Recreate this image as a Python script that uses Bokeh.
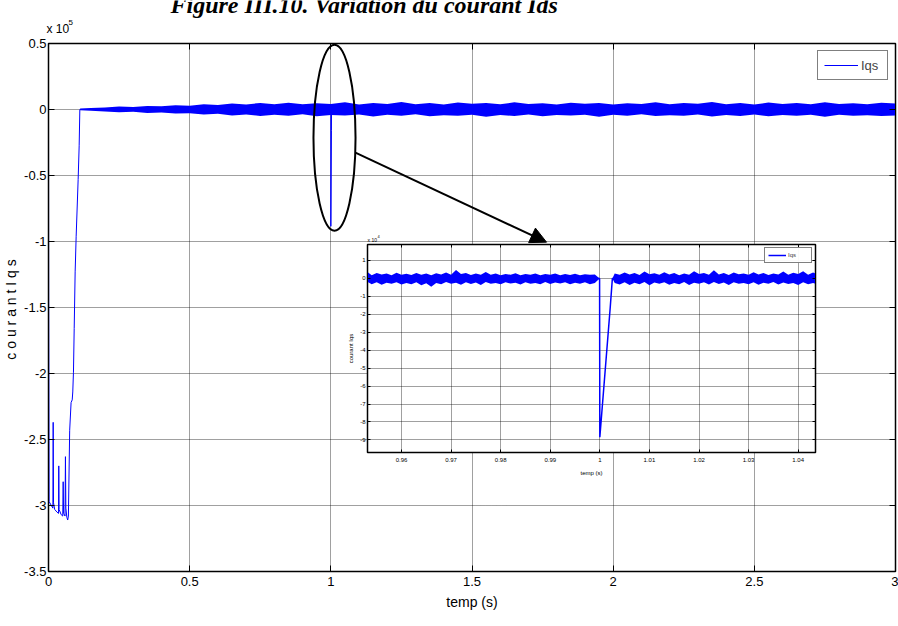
from bokeh.plotting import figure
from bokeh.models import (FixedTicker, CustomJSTickFormatter, LinearAxis, Label, Arrow,
                          NormalHead, Legend, LegendItem, Range1d)
from bokeh.layouts import column
from bokeh.embed import file_html
from bokeh.resources import INLINE

# ---------------- data (main plot, Iqs in units of 1e5) ----------------
main_t = [0, 0.0005, 0.002, 0.010, 0.0155, 0.0166, 0.0178, 0.022, 0.030, 0.0355, 0.0364,
          0.0375, 0.045, 0.0505, 0.052, 0.0535, 0.0585, 0.0600, 0.0615, 0.0650, 0.0680,
          0.0705, 0.0750, 0.0800, 0.0840, 0.0860, 0.0884, 0.0910, 0.0944, 0.0980, 0.1050,
          0.1086, 0.1110, 1.0, 1.00005, 1.0021, 1.0025, 3.0]
main_iqs = [0, -1.45, -2.97, -3.00, -3.02, -2.37, -2.98, -3.03, -3.05, -3.06, -2.70,
            -3.03, -3.07, -3.08, -2.82, -3.06, -3.08, -2.63, -3.02, -3.09, -3.11,
            -3.08, -2.43, -2.22, -2.20, -2.14, -1.99, -1.66, -1.23, -0.96, -0.53,
            -0.275, 0.0, 0.0, -0.885, -0.161, 0.0, 0.0]

# ripple envelope of the steady state (units of 1e5)
band_t = [0.112, 0.15, 0.2, 0.25, 0.3, 0.35, 0.4, 0.45, 0.5, 0.55,
          0.6, 0.65, 0.7, 0.75, 0.8, 0.85, 0.9, 0.95, 1.0, 1.05,
          1.1, 1.15, 1.2, 1.25, 1.3, 1.35, 1.4, 1.45, 1.5, 1.55,
          1.6, 1.65, 1.7, 1.75, 1.8, 1.85, 1.9, 1.95, 2.0, 2.05,
          2.1, 2.15, 2.2, 2.25, 2.3, 2.35, 2.4, 2.45, 2.5, 2.55,
          2.6, 2.65, 2.7, 2.75, 2.8, 2.85, 2.9, 2.95, 3.0]
band_hi = [0.008, 0.012, 0.016, 0.022, 0.019, 0.027, 0.024, 0.033, 0.029, 0.04,
           0.034, 0.046, 0.038, 0.05, 0.04, 0.052, 0.039, 0.048, 0.041, 0.054,
           0.038, 0.049, 0.042, 0.056, 0.04, 0.05, 0.037, 0.053, 0.043, 0.049,
           0.039, 0.055, 0.041, 0.048, 0.038, 0.052, 0.044, 0.05, 0.037, 0.047,
           0.042, 0.054, 0.039, 0.05, 0.043, 0.056, 0.04, 0.049, 0.038, 0.053,
           0.041, 0.05, 0.039, 0.055, 0.042, 0.048, 0.04, 0.052, 0.045]
band_lo = [-0.006, -0.01, -0.015, -0.02, -0.017, -0.026, -0.022, -0.031, -0.028, -0.038,
           -0.033, -0.045, -0.037, -0.049, -0.04, -0.047, -0.036, -0.052, -0.041, -0.046,
           -0.038, -0.053, -0.04, -0.048, -0.036, -0.051, -0.043, -0.047, -0.039, -0.054,
           -0.041, -0.049, -0.037, -0.052, -0.042, -0.046, -0.039, -0.055, -0.04, -0.048,
           -0.036, -0.05, -0.043, -0.047, -0.038, -0.053, -0.041, -0.049, -0.037, -0.051,
           -0.042, -0.048, -0.039, -0.054, -0.04, -0.047, -0.043, -0.05, -0.046]

# ---------------- data (zoom inset, Iqs in units of 1e4) ----------------
zoom_t = [0.9532, 0.99995, 1.0000, 1.0021, 1.00253, 1.0435]
zoom_iqs = [0.0, 0.0, -8.85, -1.61, 0.0, 0.0]

zl_t = [0.9532, 0.954, 0.955, 0.956, 0.957, 0.958, 0.959, 0.960, 0.961, 0.962,
        0.963, 0.964, 0.965, 0.966, 0.967, 0.968, 0.969, 0.970, 0.971, 0.972,
        0.973, 0.974, 0.975, 0.976, 0.977, 0.978, 0.979, 0.980, 0.981, 0.982,
        0.983, 0.984, 0.985, 0.986, 0.987, 0.988, 0.989, 0.990, 0.991, 0.992,
        0.993, 0.994, 0.995, 0.996, 0.997, 0.998, 0.999, 0.99995]
zl_hi = [0.35, 0.18, 0.3, 0.22, 0.28, 0.17, 0.31, 0.2, 0.26, 0.19,
         0.3, 0.21, 0.27, 0.18, 0.29, 0.22, 0.33, 0.2, 0.47, 0.24,
         0.3, 0.19, 0.28, 0.21, 0.36, 0.2, 0.27, 0.18, 0.25, 0.2,
         0.29, 0.17, 0.24, 0.2, 0.27, 0.18, 0.25, 0.21, 0.28, 0.17,
         0.24, 0.19, 0.26, 0.18, 0.23, 0.2, 0.22, 0.0]
zl_lo = [-0.2, -0.33, -0.22, -0.35, -0.24, -0.3, -0.21, -0.34, -0.25, -0.32,
         -0.22, -0.38, -0.27, -0.46, -0.25, -0.33, -0.2, -0.3, -0.24, -0.35,
         -0.21, -0.31, -0.23, -0.36, -0.2, -0.3, -0.26, -0.33, -0.22, -0.29,
         -0.24, -0.34, -0.21, -0.3, -0.25, -0.32, -0.2, -0.31, -0.23, -0.29,
         -0.22, -0.33, -0.24, -0.3, -0.21, -0.32, -0.25, 0.0]

zr_t = [1.00253, 1.003, 1.004, 1.005, 1.006, 1.007, 1.008, 1.009, 1.010, 1.011,
        1.012, 1.013, 1.014, 1.015, 1.016, 1.017, 1.018, 1.019, 1.020, 1.021,
        1.022, 1.023, 1.024, 1.025, 1.026, 1.027, 1.028, 1.029, 1.030, 1.031,
        1.032, 1.033, 1.034, 1.035, 1.036, 1.037, 1.038, 1.039, 1.040, 1.041,
        1.042, 1.043, 1.0435]
zr_hi = [0.0, 0.28, 0.2, 0.33, 0.22, 0.3, 0.19, 0.38, 0.23, 0.29,
         0.2, 0.35, 0.22, 0.3, 0.18, 0.28, 0.21, 0.4, 0.24, 0.3,
         0.2, 0.45, 0.22, 0.3, 0.19, 0.33, 0.23, 0.28, 0.2, 0.35,
         0.22, 0.3, 0.19, 0.27, 0.22, 0.38, 0.2, 0.31, 0.24, 0.4,
         0.21, 0.33, 0.28]
zr_lo = [0.0, -0.25, -0.34, -0.22, -0.36, -0.24, -0.32, -0.2, -0.38, -0.23,
         -0.3, -0.21, -0.35, -0.25, -0.33, -0.2, -0.37, -0.24, -0.3, -0.22,
         -0.34, -0.2, -0.31, -0.23, -0.36, -0.21, -0.3, -0.25, -0.33, -0.22,
         -0.35, -0.24, -0.3, -0.2, -0.34, -0.23, -0.31, -0.26, -0.37, -0.22,
         -0.32, -0.25, -0.3]

x_ticks = [0, 0.5, 1, 1.5, 2, 2.5, 3]
y_ticks = [-3.5, -3, -2.5, -2, -1.5, -1, -0.5, 0, 0.5]
zx_ticks = [0.96, 0.97, 0.98, 0.99, 1.0, 1.01, 1.02, 1.03, 1.04]
zy_ticks = [-9, -8, -7, -6, -5, -4, -3, -2, -1, 0, 1]

FONT = "Liberation Sans"
BLUE = "#0000ff"
fmt = CustomJSTickFormatter(code="return tick.toString()")
nofmt = CustomJSTickFormatter(code="return ''")


def style_axes(fig, xt, yt, lab_size, tick_len, title_size):
    for ax in fig.xaxis:
        ax.ticker = FixedTicker(ticks=xt)
    for ax in fig.yaxis:
        ax.ticker = FixedTicker(ticks=yt)
    for ax in fig.xaxis + fig.yaxis:
        ax.formatter = fmt
        ax.major_tick_in = tick_len
        ax.major_tick_out = 0
        ax.minor_tick_line_color = None
        ax.axis_line_color = "black"
        ax.major_tick_line_color = "black"
        ax.major_label_text_font = FONT
        ax.major_label_text_font_size = lab_size
        ax.major_label_text_color = "black"
        ax.axis_label_text_font = FONT
        ax.axis_label_text_font_size = title_size
        ax.axis_label_text_font_style = "normal"
        ax.axis_label_text_color = "black"
    for ax, loc in ((LinearAxis(ticker=FixedTicker(ticks=xt)), "above"),
                    (LinearAxis(ticker=FixedTicker(ticks=yt)), "right")):
        ax.formatter = nofmt
        ax.major_label_standoff = 0
        ax.major_tick_in = tick_len
        ax.major_tick_out = 0
        ax.minor_tick_line_color = None
        ax.axis_line_color = "black"
        ax.major_tick_line_color = "black"
        fig.add_layout(ax, loc)
    fig.grid.grid_line_color = "black"
    fig.grid.grid_line_dash = "1 1"
    fig.grid.grid_line_alpha = 0.75
    fig.outline_line_color = "black"


# ---------------- main figure ----------------
p = figure(width=898, height=626, x_range=Range1d(0, 3), y_range=Range1d(-3.5, 0.5),
           output_backend="svg", toolbar_location=None,
           min_border_left=48, min_border_right=3, min_border_top=43, min_border_bottom=55,
           x_axis_label="temp (s)", y_axis_label="c o u r a n t  I q s")
p.background_fill_color = "white"
p.border_fill_color = "white"
style_axes(p, x_ticks, y_ticks, "13px", 6, "14px")
p.xaxis[0].major_label_text_font_size = "15px"
p.xaxis[0].major_label_standoff = 5
p.xaxis[0].axis_label_standoff = 10
p.yaxis[0].major_label_standoff = 2
p.yaxis[0].axis_label_standoff = 2
p.outline_line_width = 1.5

p.varea(x=band_t, y1=band_lo, y2=band_hi, fill_color=BLUE)
main_line = p.line(main_t, main_iqs, line_color=BLUE, line_width=1)

leg = Legend(items=[LegendItem(label="Iqs", renderers=[main_line])], location="top_right")
leg.margin = 7
leg.padding = 6
leg.spacing = 0
leg.glyph_width = 34
leg.glyph_height = 16
leg.label_standoff = 3
leg.label_text_font = FONT
leg.label_text_font_size = "13px"
leg.border_line_color = "black"
leg.border_line_width = 1.5
p.add_layout(leg)

# ellipse + arrow annotation
p.ellipse(x=1.013, y=-0.214, width=0.149, height=1.41, fill_color=None,
          line_color="black", line_width=2)
p.add_layout(Arrow(end=NormalHead(size=16, fill_color="black", line_color="black"),
                   x_start=1.087, y_start=-0.326, x_end=1.764, y_end=-1.005,
                   line_color="black", line_width=2))

# ---------------- inset figure ----------------
ins = figure(width=499, height=252, x_range=Range1d(0.95315, 1.04349),
             y_range=Range1d(-9.70, 1.89), output_backend="svg", toolbar_location=None,
             min_border_left=48, min_border_right=3, min_border_top=14, min_border_bottom=30,
             x_axis_label="temp (s)", y_axis_label="courant Iqs")
ins.border_fill_color = None
ins.background_fill_color = "white"
style_axes(ins, zx_ticks, zy_ticks, "6px", 3, "6px")
ins.xaxis[0].major_label_standoff = 3
ins.xaxis[0].axis_label_standoff = 5
ins.yaxis[0].major_label_standoff = 2
ins.yaxis[0].axis_label_standoff = 3
ins.outline_line_width = 1.5

ins.varea(x=zl_t, y1=zl_lo, y2=zl_hi, fill_color=BLUE)
ins.varea(x=zr_t, y1=zr_lo, y2=zr_hi, fill_color=BLUE)
zline = ins.line(zoom_t, zoom_iqs, line_color=BLUE, line_width=1.5)

leg2 = Legend(items=[LegendItem(label="Iqs", renderers=[zline])], location="top_right")
leg2.margin = 3
leg2.padding = 3
leg2.spacing = 0
leg2.glyph_width = 18
leg2.glyph_height = 8
leg2.label_height = 8
leg2.label_standoff = 2
leg2.label_text_font = FONT
leg2.label_text_font_size = "6px"
leg2.border_line_color = "black"
leg2.border_line_width = 1.2
ins.add_layout(leg2)

# ---------------- overlay for free texts (page pixel coordinates) ----------------
ov = figure(width=898, height=626, x_range=Range1d(0, 898), y_range=Range1d(626, 0),
            output_backend="svg", toolbar_location=None, x_axis_type=None,
            y_axis_type=None, min_border=0, title=None)
ov.outline_line_color = None
ov.background_fill_color = None
ov.border_fill_color = None
ov.add_layout(Label(x=170, y=4, text="Figure III.10. Variation du courant Ids",
                    text_font="Liberation Serif", text_font_style="bold italic",
                    text_font_size="24px", text_color="black", text_baseline="alphabetic"))
ov.add_layout(Label(x=46, y=28.5, text="x 10", text_font=FONT, text_font_size="12px",
                    text_color="black", text_baseline="alphabetic"))
ov.add_layout(Label(x=68, y=21.5, text="5", text_font=FONT, text_font_size="8px",
                    text_color="black", text_baseline="alphabetic"))
ov.add_layout(Label(x=367, y=239, text="x 10", text_font=FONT, text_font_size="5px",
                    text_color="black", text_baseline="alphabetic"))
ov.add_layout(Label(x=377, y=235.5, text="4", text_font=FONT, text_font_size="4px",
                    text_color="black", text_baseline="alphabetic"))

ins_box = column(ins)
ins_box.styles = {"position": "absolute", "left": "319px", "top": "230px"}
ov_box = column(ov)
ov_box.styles = {"position": "absolute", "left": "0px", "top": "0px"}

layout = column(p, ins_box, ov_box)
open("out.html", "w").write(file_html(layout, INLINE))
